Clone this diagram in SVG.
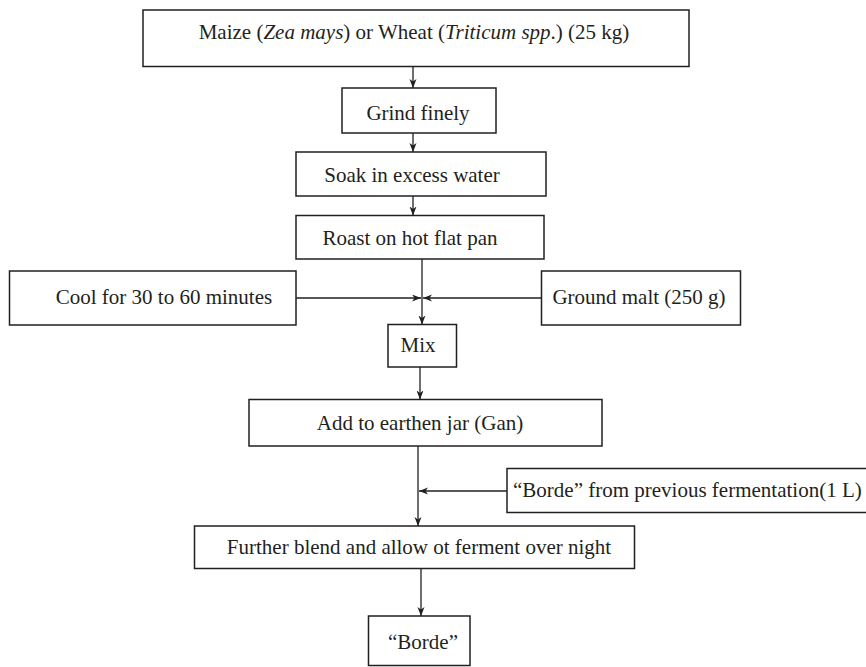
<svg xmlns="http://www.w3.org/2000/svg" width="866" height="667" viewBox="0 0 866 667">
  <style>
    .box { fill: #ffffff; stroke: #231f20; stroke-width: 1.5; }
    .lbl { font-family: "Liberation Serif", "Times New Roman", serif; font-size: 21px; fill: #231f20; text-anchor: middle; }
    .conn line { stroke: #231f20; stroke-width: 1.3; fill: none; marker-end: url(#arr); }
    .it { font-style: italic; }
  </style>
  <defs>
    <marker id="arr" markerUnits="userSpaceOnUse" markerWidth="10" markerHeight="8" refX="9" refY="3.5" orient="auto">
      <path d="M0,0 L9,3.5 L0,7 L2.5,3.5 Z" fill="#231f20"/>
    </marker>
  </defs>
  <rect width="866" height="667" fill="#ffffff"/>

  <g id="n-grain">
    <rect class="box" x="143" y="10" width="546" height="56.5"/>
    <text class="lbl" x="414" y="39">Maize (<tspan class="it">Zea mays</tspan>) or Wheat (<tspan class="it">Triticum spp</tspan>.) (25 kg)</text>
  </g>
  <g id="n-grind">
    <rect class="box" x="342" y="88" width="154" height="45"/>
    <text class="lbl" x="418" y="120">Grind finely</text>
  </g>
  <g id="n-soak">
    <rect class="box" x="296" y="152" width="250" height="44"/>
    <text class="lbl" x="412" y="182">Soak in excess water</text>
  </g>
  <g id="n-roast">
    <rect class="box" x="296" y="215.5" width="248" height="43.5"/>
    <text class="lbl" x="410" y="245">Roast on hot flat pan</text>
  </g>
  <g id="n-cool">
    <rect class="box" x="9.5" y="271" width="286.5" height="54"/>
    <text class="lbl" x="164" y="304">Cool for 30 to 60 minutes</text>
  </g>
  <g id="n-malt">
    <rect class="box" x="541.5" y="271" width="199" height="54"/>
    <text class="lbl" x="639" y="304">Ground malt (250 g)</text>
  </g>
  <g id="n-mix">
    <rect class="box" x="388" y="324.5" width="68.5" height="42.5"/>
    <text class="lbl" x="418" y="352">Mix</text>
  </g>
  <g id="n-jar">
    <rect class="box" x="249" y="399.5" width="353" height="46.5"/>
    <text class="lbl" x="420" y="430">Add to earthen jar (Gan)</text>
  </g>
  <g id="n-prev">
    <rect class="box" x="507" y="468.5" width="362" height="44"/>
    <text class="lbl" x="513" y="497" style="text-anchor:start">“Borde” from previous fermentation(1 L)</text>
  </g>
  <g id="n-ferment">
    <rect class="box" x="194.5" y="526" width="440" height="42.5"/>
    <text class="lbl" x="419" y="554">Further blend and allow ot ferment over night</text>
  </g>
  <g id="n-borde">
    <rect class="box" x="368.5" y="616" width="101.5" height="49.5"/>
    <text class="lbl" x="423" y="649">“Borde”</text>
  </g>

  <g id="connectors" class="conn">
    <line x1="413" y1="66.5" x2="413" y2="88"/>
    <line x1="413" y1="133" x2="413" y2="152"/>
    <line x1="413" y1="196" x2="413" y2="215.5"/>
    <line x1="422" y1="259" x2="422" y2="324.5"/>
    <line x1="296" y1="298" x2="421" y2="298"/>
    <line x1="541.5" y1="298" x2="423" y2="298"/>
    <line x1="420" y1="367" x2="420" y2="399.5"/>
    <line x1="418" y1="446" x2="418" y2="526"/>
    <line x1="507" y1="491" x2="419" y2="491"/>
    <line x1="421" y1="568.5" x2="421" y2="616"/>
  </g>
</svg>
